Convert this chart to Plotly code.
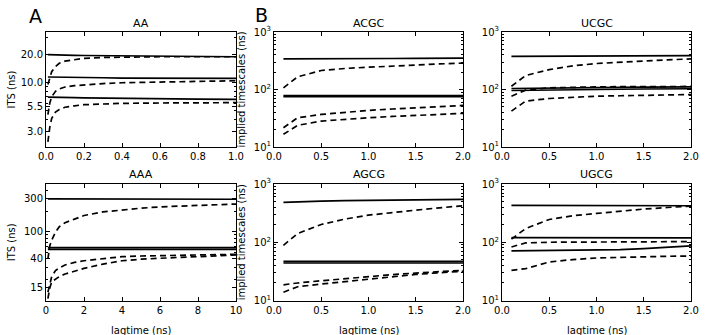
import numpy as np
import plotly.graph_objects as go
from plotly.subplots import make_subplots

# lag times (ns)
lag_aa = [0.01, 0.02, 0.03, 0.05, 0.07, 0.1, 0.15, 0.2, 0.3, 0.4, 0.6, 0.8, 1.0]
lag_aaa = [0.1, 0.2, 0.3, 0.5, 0.7, 1, 1.5, 2, 3, 4, 5, 6, 7, 8, 9, 10]
lag_tetra = [0.1, 0.25, 0.5, 0.75, 1.0, 1.25, 1.5, 1.75, 2.0]

# AA  (solid = reference, dashed = model)
aa_solid = [
    [19.8, 19.8, 19.8, 19.7, 19.7, 19.6, 19.5, 19.4, 19.3, 19.2, 19.0, 18.9, 18.8],
    [11.4, 11.4, 11.4, 11.4, 11.3, 11.3, 11.3, 11.2, 11.2, 11.1, 11.1, 11.0, 11.0],
    [6.95, 6.95, 6.9, 6.9, 6.9, 6.85, 6.85, 6.8, 6.75, 6.7, 6.65, 6.6, 6.55],
]
aa_dash = [
    [9.5, 11.5, 13.0, 14.8, 16.0, 16.9, 17.6, 18.1, 18.5, 18.7, 18.8, 18.8, 18.8],
    [4.5, 6.0, 7.0, 8.0, 8.5, 8.9, 9.2, 9.4, 9.7, 9.9, 10.1, 10.3, 10.4],
    [2.3, 3.3, 4.1, 4.8, 5.1, 5.4, 5.6, 5.75, 5.85, 5.95, 6.0, 6.05, 6.05],
]

# AAA
aaa_solid = [
    [301, 301, 301, 300, 300, 300, 300, 300, 299, 299, 298, 298, 298, 297, 297, 297],
    [58.5, 58.5, 58.5, 58.5, 58.5, 58.4, 58.4, 58.4, 58.3, 58.3, 58.3, 58.2, 58.2, 58.2, 58.2, 58.2],
    [55.0, 55.0, 55.0, 55.0, 55.0, 55.0, 55.0, 55.0, 55.0, 55.0, 55.0, 55.0, 55.0, 55.0, 55.0, 55.0],
]
aaa_dash = [
    [40, 62, 75, 98, 118, 135, 152, 172, 194, 208, 220, 230, 237, 243, 248, 253],
    [13, 18, 22, 27, 29.5, 32.5, 35.5, 37.5, 40.5, 43, 44, 44.5, 45, 45.5, 46, 46.6],
    [10.5, 15, 18.5, 20.5, 22, 24, 26.5, 29, 33.5, 37.5, 39.5, 41, 42, 43, 44.5, 45.5],
]

# ACGC
acgc_solid = [
    [340, 342, 344, 345, 345, 346, 347, 348, 350],
    [78, 78, 78, 78, 78, 78, 78, 78, 78],
    [75, 75, 75, 75, 75, 75, 75, 75, 75],
]
acgc_dash = [
    [107, 166, 214, 232, 244, 257, 268, 278, 288],
    [21.6, 32.3, 36.8, 40.5, 43.3, 45.8, 48.1, 50.5, 52.8],
    [16.6, 23.8, 28.2, 30.5, 32.3, 34.0, 35.4, 37.0, 38.4],
]

# UCGC
ucgc_solid = [
    [378, 379, 380, 381, 382, 384, 385, 386, 388],
    [104, 105, 106, 107, 108, 109, 110, 110, 111],
    [96, 97, 98, 99, 100, 101, 102, 102, 103],
]
ucgc_dash = [
    [114, 175, 222, 258, 283, 300, 314, 328, 340],
    [76.6, 97.3, 107, 110, 111, 112, 112, 113, 113],
    [42.1, 62.8, 69.8, 73.8, 76.6, 77.8, 78.7, 80.3, 81.8],
]

# AGCG
agcg_solid = [
    [483, 495, 510, 520, 528, 534, 538, 541, 544],
    [47, 47, 47, 47, 47, 47, 47, 47, 47],
    [44, 44, 44, 44, 44, 44, 44, 44, 44],
]
agcg_dash = [
    [88.7, 141, 202, 250, 292, 325, 356, 390, 423],
    [18.6, 20.0, 21.8, 23.8, 25.8, 27.8, 29.6, 31.3, 33.0],
    [13.9, 17.2, 19.2, 21.2, 23.5, 25.8, 28.0, 30.0, 31.8],
]

# UGCG
ugcg_solid = [
    [429, 428, 427, 426, 425, 424, 424, 423, 423],
    [120, 120, 120, 120, 120, 119, 119, 119, 119],
    [71, 71.5, 72, 72.5, 72.8, 74.5, 77.8, 82, 86.5],
]
ugcg_dash = [
    [113, 172, 246, 285, 312, 343, 371, 395, 418],
    [83, 97.5, 100, 100.5, 101, 101.5, 102, 102.3, 102.6],
    [32.9, 35.2, 45.8, 50.5, 53.7, 55.3, 56.6, 57.4, 58.1],
]

W, H = 706, 335
FONT = "DejaVu Sans"

panels = [
    # row, col, title, lag, solid, dashed
    (1, 1, "AA", lag_aa, aa_solid, aa_dash),
    (1, 2, "ACGC", lag_tetra, acgc_solid, acgc_dash),
    (1, 3, "UCGC", lag_tetra, ucgc_solid, ucgc_dash),
    (2, 1, "AAA", lag_aaa, aaa_solid, aaa_dash),
    (2, 2, "AGCG", lag_tetra, agcg_solid, agcg_dash),
    (2, 3, "UGCG", lag_tetra, ugcg_solid, ugcg_dash),
]

fig = make_subplots(rows=2, cols=3)

for r, c, title, lag, solid, dashed in panels:
    for ys in solid:
        fig.add_trace(go.Scatter(x=lag, y=ys, mode="lines", showlegend=False,
                                 line=dict(color="black", width=1.7)), row=r, col=c)
    for ys in dashed:
        fig.add_trace(go.Scatter(x=lag, y=ys, mode="lines", showlegend=False,
                                 line=dict(color="black", width=1.7, dash="6px,4px")), row=r, col=c)

# pixel boxes of the axes
col_px = [(46, 236), (274, 463), (502, 691)]
row_px = [(32, 147), (184, 300.5)]

minor_vals = [m * 10 ** k for k in range(0, 3) for m in range(2, 10)]

common = dict(showline=True, linecolor="black", linewidth=1, mirror="ticks",
              ticks="inside", ticklen=4, tickcolor="black", showgrid=False,
              zeroline=False, automargin=False,
              tickfont=dict(family=FONT, size=10, color="black"))


def label(text, px, py, size=10, angle=0):
    fig.add_annotation(text=text, x=px / W, y=1 - py / H, xref="paper", yref="paper",
                       xanchor="center", yanchor="middle", showarrow=False,
                       textangle=angle, font=dict(family=FONT, size=size, color="black"))


for r, c, title, lag, solid, dashed in panels:
    x0, x1 = col_px[c - 1]
    y0, y1 = row_px[r - 1]
    xdom = [x0 / W, x1 / W]
    ydom = [1 - y1 / H, 1 - y0 / H]
    if c == 1 and r == 1:
        xr, xt, xtt = [0, 1], [0, 0.2, 0.4, 0.6, 0.8, 1.0], ["0.0", "0.2", "0.4", "0.6", "0.8", "1.0"]
        yr, yt, ytt = [0.306, 1.540], [3, 5.5, 10, 20], ["3.0", "5.5", "10.0", "20.0"]
    elif c == 1:
        xr, xt, xtt = [0, 10], [0, 2, 4, 6, 8, 10], ["0", "2", "4", "6", "8", "10"]
        yr, yt, ytt = [0.993, 2.696], [15, 40, 100, 300], ["15", "40", "100", "300"]
    else:
        xr, xt, xtt = [0, 2], [0, 0.5, 1.0, 1.5, 2.0], ["0.0", "0.5", "1.0", "1.5", "2.0"]
        yr, yt, ytt = [1, 3], [10, 100, 1000], ["10<sup>1</sup>", "10<sup>2</sup>", "10<sup>3</sup>"]
    fig.update_xaxes(domain=xdom, range=xr, tickvals=xt, ticktext=xtt, row=r, col=c, **common)
    fig.update_yaxes(domain=ydom, type="log", range=yr, tickvals=yt, ticktext=ytt,
                     minor=dict(tickvals=minor_vals, ticks="inside", ticklen=2,
                                tickcolor="black", showgrid=False),
                     row=r, col=c, **common)
    label(title, (x0 + x1) / 2, y0 - 9, size=11)
    if r == 2:
        label("lagtime (ns)", (x0 + x1) / 2, 330)
    if c == 1:
        label("ITS (ns)", 11, (y0 + y1) / 2, angle=-90)
    if c == 2:
        label("implied timescales (ns)", 241, (y0 + y1) / 2, angle=-90)

label("A", 35, 16, size=19)
label("B", 261, 15, size=19)

fig.update_layout(width=W, height=H,
                  margin=dict(l=0, r=0, t=0, b=0, pad=0, autoexpand=False),
                  paper_bgcolor="white", plot_bgcolor="white",
                  font=dict(family=FONT, size=10, color="black"))

# the page's default body margin would shift the figure by 8px
fig.write_html("out.html", config={"displayModeBar": False},
               post_script="document.body.style.margin='0px';")
